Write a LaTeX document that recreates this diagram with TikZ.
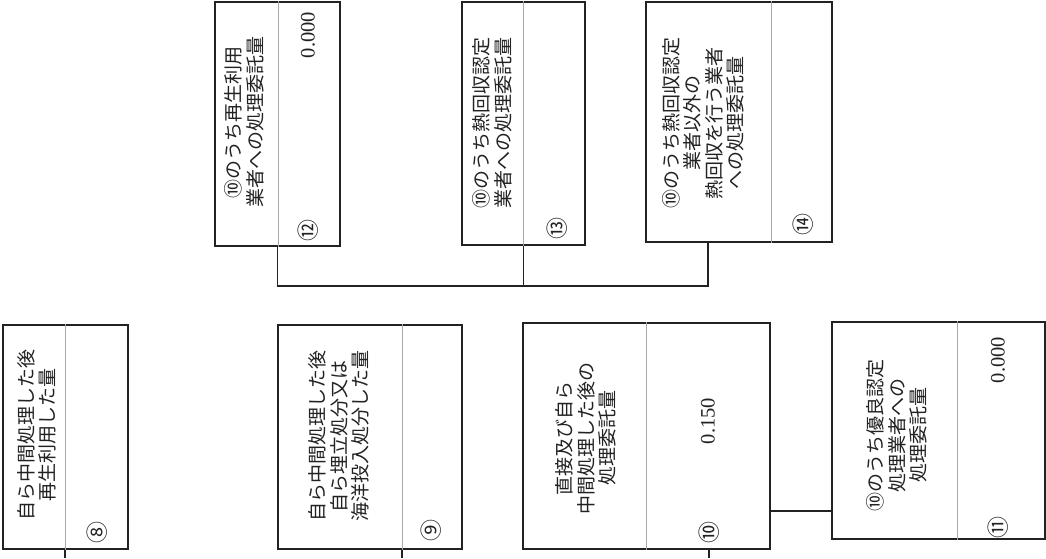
\documentclass[tikz,border=0pt]{standalone}
\usepackage{fontspec}
\setmainfont{Liberation Serif}
\newfontfamily\jpfont{Noto Sans CJK JP}
\usepackage{tikz}
\usetikzlibrary{calc}
\definecolor{recink}{HTML}{222222}
\definecolor{recgrid}{HTML}{A8A8A8}
\tikzset{
  recbox/.style={draw=recink,line width=1.5pt,fill=white,inner sep=0pt},
  recdiv/.style={draw=recgrid,line width=0.6pt},
  recline/.style={draw=recink,line width=1.2pt},
  rectext/.style={rotate=90,font=\jpfont\fontsize{19}{21.5}\selectfont,align=center,inner sep=0pt,text=recink},
  recval/.style={rotate=90,font=\fontsize{20.5}{20.5}\selectfont,inner sep=0pt,text=recink},
  recnum/.style={rotate=90,font=\jpfont\fontsize{22}{22}\selectfont,inner sep=0pt,text=recink}
}

\begin{document}
\begin{tikzpicture}[x=1pt,y=-1pt]
\useasboundingbox (0,0) rectangle (1046,558);
% boxes
\node[recbox,minimum width=125pt,minimum height=224pt] (b8) at (65.5,437) {};
\node[recbox,minimum width=184pt,minimum height=224pt] (b9) at (370,437) {};
\node[recbox,minimum width=247pt,minimum height=226pt] (b10) at (646.5,436) {};
\node[recbox,minimum width=213pt,minimum height=217pt] (b11) at (938.5,430.5) {};
\node[recbox,minimum width=125pt,minimum height=244pt] (b12) at (277.5,124) {};
\node[recbox,minimum width=123pt,minimum height=243pt] (b13) at (523.5,123.5) {};
\node[recbox,minimum width=186pt,minimum height=240pt] (b14) at (739,122) {};
\foreach \b/\x in {b8/65,b9/402,b10/646,b11/957,b12/278,b13/523,b14/771}{
  \draw[recdiv] (\b.north -| \x,0) -- (\b.south -| \x,0);
}
% labels
\node[rectext] (t8) at (37,435) {自ら中間処理した後\\再生利用した量};
\node[rectext] (t9) at (339,436) {自ら中間処理した後\\自ら埋立処分又は\\海洋投入処分した量};
\node[rectext] (t10) at (586,438) {直接及び自ら\\中間処理した後の\\処理委託量};
\node[rectext] (t11) at (897,435) {⑩のうち優良認定\\処理業者への\\処理委託量};
\node[rectext] (t12) at (244,122) {⑩のうち再生利用\\業者への処理委託量};
\node[rectext] (t13) at (492,123) {⑩のうち熱回収認定\\業者への処理委託量};
\node[rectext] (t14) at (703,123) {⑩のうち熱回収認定\\業者以外の\\熱回収を行う業者\\への処理委託量};
% values
\node[recval] (v10) at (708,421) {0.150};
\node[recval] (v11) at (998,360) {0.000};
\node[recval] (v12) at (308,35) {0.000};
% item numbers
\node[recnum] (n8) at (97,532) {⑧};
\node[recnum] (n9) at (431,530) {⑨};
\node[recnum] (n10) at (709,532) {⑩};
\node[recnum] (n11) at (998,527) {⑪};
\node[recnum] (n12) at (308,230) {⑫};
\node[recnum] (n13) at (557,228) {⑬};
\node[recnum] (n14) at (803,224) {⑭};
% connectors
\coordinate (jn) at (708,286);
\coordinate (k) at (800,511);
\coordinate (e8) at (65,558);
\coordinate (e9) at (402,558);
\coordinate (e10) at (709,558);
\draw[recline] (b12.south) |- (jn) -- (b14.south -| jn);
\draw[recline] (b13.south) -- (b13.south |- jn);
\draw[recline] (b10.east |- k) -- (b11.west |- k);
\draw[recline] (b8.south -| e8) -- (e8);
\draw[recline] (b9.south -| e9) -- (e9);
\draw[recline] (b10.south -| e10) -- (e10);
\end{tikzpicture}
\end{document}
